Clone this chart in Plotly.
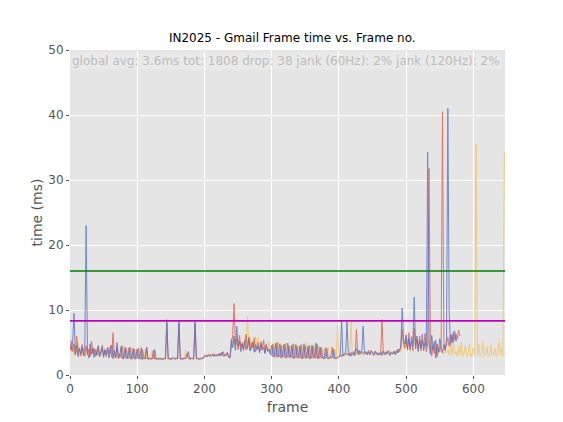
import plotly.graph_objects as go

# frame times (ms), one value every 2 frames
frame_step = 2

blue_ms = [
    4.5, 3.8, 5.2, 9.5, 3.1, 4.6, 2.8, 4.0, 3.3, 4.4,
    3.0, 4.2, 23.0, 3.5, 2.6, 4.8, 3.2, 4.1, 2.7, 3.9,
    3.0, 4.5, 2.8, 3.6, 4.2, 2.7, 3.9, 3.1, 4.3, 2.6,
    3.4, 4.6, 2.5, 3.8, 2.7, 5.0, 2.6, 3.1, 4.4, 2.5,
    2.6, 4.3, 2.5, 2.7, 4.2, 2.5, 2.6, 4.1, 2.4, 2.7,
    4.0, 2.5, 2.6, 4.2, 2.4, 2.6, 2.5, 4.3, 2.5, 2.6,
    2.4, 2.5, 2.6, 3.9, 2.5, 2.4, 2.6, 2.5, 2.5, 2.4,
    2.6, 2.5, 8.5, 2.6, 2.4, 2.5, 2.6, 2.7, 2.5, 2.6,
    2.5, 8.4, 2.6, 2.5, 2.4, 2.6, 2.5, 2.7, 3.6, 2.5,
    2.6, 2.5, 2.7, 8.2, 2.6, 2.5, 2.4, 2.6, 2.5, 2.6,
    2.9, 3.0, 2.8, 3.1, 2.9, 3.0, 3.2, 2.9, 3.0, 3.1,
    2.9, 3.3, 3.0, 3.5, 2.9, 3.1, 3.0, 3.4, 2.8, 2.7,
    5.5, 4.2, 6.0, 3.8, 7.5, 4.5, 5.2, 3.6, 4.8, 4.0,
    5.3, 3.9, 4.6, 5.8, 3.7, 4.4, 5.0, 3.5, 4.7, 3.9,
    4.5, 3.4, 5.1, 3.8, 4.2, 3.3, 4.8, 3.6, 3.9, 3.2,
    4.6, 2.8, 3.0, 4.9, 2.7, 3.2, 4.8, 2.6, 3.1, 4.7,
    2.6, 2.9, 4.9, 2.7, 2.8, 4.6, 2.5, 3.0, 4.7, 2.6,
    2.8, 4.5, 2.5, 2.9, 4.8, 2.6, 2.7, 4.4, 2.5, 2.8,
    4.6, 2.6, 2.7, 4.9, 2.5, 2.8, 4.3, 2.6, 2.7, 2.5,
    4.2, 2.6, 2.5, 2.8, 2.6, 2.7, 4.0, 2.6, 2.5, 2.7,
    2.8, 3.0, 8.3, 2.9, 3.2, 3.5, 8.2, 3.1, 3.3, 2.9,
    3.4, 3.0, 3.6, 4.1, 3.2, 3.8, 3.3, 3.5, 7.5, 3.4,
    3.6, 3.1, 3.5, 3.2, 3.8, 3.3, 3.0, 3.6, 3.2, 3.4,
    3.1, 3.5, 3.0, 3.7, 3.3, 3.2, 3.6, 3.4, 3.0, 3.5,
    3.2, 3.6, 3.1, 3.8, 3.4, 3.9, 4.2, 10.3, 5.5, 4.8,
    6.2, 4.1, 5.6, 3.8, 5.9, 4.5, 12.0, 4.0, 6.0, 3.6,
    5.4, 4.2, 6.3, 3.7, 5.0, 4.4, 34.3, 4.9, 3.2, 6.1,
    3.9, 5.2, 2.6, 4.8, 3.5, 5.6, 4.1, 3.4, 4.7, 3.8,
    5.5, 41.0, 9.5, 4.6, 6.2, 5.0, 6.8, 5.2, 5.8,
]

red_ms = [
    4.0, 5.3, 3.6, 4.8, 3.2, 6.0, 3.5, 4.2, 2.9, 4.7,
    3.4, 2.9, 4.5, 3.1, 4.0, 2.8, 5.2, 3.3, 4.1, 2.9,
    3.7, 4.4, 2.9, 3.5, 4.6, 3.0, 3.8, 2.8, 4.1, 3.2,
    4.5, 2.8, 6.5, 3.0, 2.6, 4.4, 2.5, 3.2, 2.7, 4.5,
    2.5, 2.7, 4.1, 2.5, 2.6, 4.3, 2.4, 2.6, 4.0, 2.5,
    2.6, 4.1, 2.5, 2.4, 3.9, 2.6, 2.5, 4.2, 2.4, 2.5,
    2.6, 2.5, 3.8, 2.4, 2.6, 2.5, 2.4, 2.6, 2.5, 2.4,
    2.5, 2.6, 8.0, 2.5, 2.6, 2.4, 2.5, 2.6, 2.4, 2.5,
    2.6, 7.9, 2.5, 2.4, 2.6, 2.5, 2.7, 3.3, 2.6, 2.4,
    2.5, 2.6, 2.4, 8.0, 2.5, 2.6, 2.5, 2.4, 2.6, 2.5,
    3.0, 2.8, 3.1, 2.9, 3.2, 2.8, 3.0, 3.3, 2.9, 3.0,
    3.2, 2.9, 3.4, 3.0, 3.6, 2.9, 3.1, 3.5, 2.7, 2.6,
    4.8, 6.2, 11.0, 4.5, 5.6, 3.9, 6.1, 4.3, 5.0, 3.7,
    4.9, 6.3, 4.0, 5.4, 3.8, 5.1, 4.2, 5.7, 3.6, 4.5,
    5.0, 3.6, 4.6, 3.9, 5.3, 3.4, 4.4, 3.7, 4.0, 3.3,
    3.0, 4.8, 2.7, 3.1, 5.0, 2.8, 2.9, 4.6, 2.7, 3.0,
    4.8, 2.6, 2.8, 4.5, 2.7, 2.9, 4.8, 2.6, 2.7, 4.4,
    2.6, 2.8, 4.7, 2.5, 2.9, 4.5, 2.6, 2.7, 4.6, 2.5,
    2.8, 4.4, 2.6, 2.7, 4.7, 2.5, 2.8, 4.2, 2.6, 2.5,
    2.7, 4.1, 2.5, 2.6, 2.8, 4.3, 2.6, 2.5, 2.7, 2.6,
    2.9, 3.1, 2.8, 3.2, 3.0, 3.4, 3.1, 3.3, 2.9, 3.5,
    3.2, 3.6, 3.0, 7.0, 3.4, 3.1, 3.7, 3.3, 3.5, 3.2,
    3.5, 3.2, 3.8, 3.1, 3.6, 3.4, 3.2, 3.7, 3.3, 3.0,
    3.4, 3.2, 8.5, 3.5, 3.1, 3.6, 3.3, 3.8, 3.2, 3.4,
    3.3, 3.7, 3.2, 3.5, 4.0, 3.6, 4.4, 7.0, 5.0, 4.2,
    5.8, 3.9, 6.5, 4.3, 5.2, 3.8, 7.2, 4.6, 5.5, 4.0,
    6.0, 3.7, 5.3, 4.5, 6.4, 3.6, 4.8, 31.8, 5.2, 2.9,
    4.5, 3.3, 5.4, 2.8, 4.2, 3.6, 4.9, 40.5, 5.0, 3.9,
    4.6, 5.8, 4.4, 6.2, 5.0, 6.6, 5.4, 6.3, 5.6, 6.9, 6.0,
]

yellow_ms = [
    4.2, 3.5, 4.9, 3.0, 4.4, 3.3, 5.0, 2.9, 3.8, 3.2,
    4.1, 2.8, 3.6, 4.3, 2.9, 3.9, 3.1, 4.4, 2.8, 3.5,
    4.0, 3.0, 3.7, 4.2, 2.9, 3.4, 4.1, 3.1, 3.6, 2.9,
    3.8, 2.7, 4.6, 2.6, 3.0, 4.2, 2.5, 2.8, 4.3, 2.6,
    2.7, 4.0, 2.5, 2.6, 4.2, 2.5, 2.7, 3.9, 2.5, 2.6,
    4.1, 2.5, 2.6, 3.8, 2.5, 2.7, 4.0, 2.4, 2.6, 2.5,
    2.5, 3.7, 2.6, 2.5, 2.4, 2.6, 2.5, 2.4, 2.6, 2.5,
    2.5, 2.6, 2.5, 2.4, 2.6, 2.5, 2.4, 2.6, 2.5, 2.6,
    2.5, 2.6, 2.4, 2.5, 2.6, 2.7, 3.8, 2.6, 2.5, 2.4,
    2.6, 2.5, 2.6, 2.4, 2.5, 2.6, 2.5, 2.4, 2.6, 2.7,
    3.1, 2.9, 3.0, 3.2, 2.9, 3.1, 3.0, 2.8, 3.2, 2.9,
    3.0, 3.3, 2.9, 3.1, 3.4, 3.0, 3.2, 2.9, 2.8, 2.7,
    5.0, 4.3, 5.5, 3.9, 6.2, 4.1, 5.4, 3.8, 4.6, 4.2,
    5.6, 3.9, 9.0, 4.4, 5.9, 3.8, 5.2, 4.0, 6.0, 4.3,
    5.8, 3.7, 4.9, 4.2, 5.5, 3.6, 4.6, 3.9, 5.1, 3.4,
    3.2, 2.9, 4.7, 2.8, 3.0, 5.1, 2.7, 2.9, 4.6, 2.8,
    3.0, 4.9, 2.7, 2.8, 4.4, 2.6, 3.0, 4.7, 2.7, 2.8,
    4.6, 2.6, 2.7, 4.4, 2.5, 2.8, 4.9, 2.6, 2.7, 4.5,
    2.5, 2.7, 4.8, 2.6, 2.6, 4.5, 2.5, 2.7, 4.1, 2.6,
    2.5, 2.7, 4.3, 2.6, 2.5, 2.8, 2.6, 4.0, 2.7, 7.7,
    3.0, 2.8, 3.2, 2.9, 3.3, 3.1, 3.0, 3.2, 3.0, 8.2,
    3.1, 3.4, 3.0, 3.5, 3.2, 3.6, 3.1, 3.3, 3.0, 3.4,
    3.2, 3.5, 3.1, 3.6, 3.3, 3.0, 3.4, 3.2, 3.5, 3.1,
    3.3, 3.0, 3.6, 3.2, 3.4, 3.1, 3.5, 3.3, 3.0, 3.6,
    3.2, 3.4, 3.7, 3.3, 3.8, 4.1, 3.6, 5.8, 4.4, 3.9,
    5.1, 3.7, 5.7, 4.0, 4.8, 3.6, 6.0, 4.2, 5.0, 3.8,
    5.5, 3.9, 4.6, 4.1, 5.7, 3.5, 4.4, 5.3, 3.8, 4.5,
    3.6, 4.9, 3.3, 4.2, 3.1, 4.6, 3.5, 3.9, 3.2, 4.1,
    3.4, 3.9, 3.1, 4.6, 3.0, 5.2, 3.2, 3.6, 2.9, 4.4,
    3.0, 5.0, 2.8, 3.4, 4.5, 2.9, 3.2, 4.8, 2.8, 3.1,
    4.2, 2.9, 35.5, 3.0, 4.7, 2.8, 3.3, 5.1, 2.9, 3.2,
    4.4, 2.8, 3.0, 4.6, 2.9, 3.1, 4.1, 2.8, 3.5, 5.0,
    3.0, 4.4, 2.9, 34.3,
]

jank_60hz_ms = 16.0
jank_120hz_ms = 8.33
x_max = 647
stats_text = "global avg: 3.6ms tot: 1808 drop: 38 jank (60Hz): 2% jank (120Hz): 2%"

fig = go.Figure()

# yellow first so the other two runs sit on top
for values, color in [(yellow_ms, "#F5C463"), (red_ms, "#E8584A"), (blue_ms, "#5470C6")]:
    frames = list(range(0, len(values) * frame_step, frame_step))
    fig.add_trace(go.Scatter(
        x=frames, y=values, mode="lines",
        line=dict(color=color, width=1.0), opacity=0.8,
        showlegend=False, hoverinfo="skip",
    ))

for level, color in [(jank_60hz_ms, "#008000"), (jank_120hz_ms, "#BF00BF")]:
    fig.add_trace(go.Scatter(
        x=[0, x_max], y=[level, level], mode="lines",
        line=dict(color=color, width=1.6),
        showlegend=False, hoverinfo="skip",
    ))

fig.add_annotation(
    text=stats_text, xref="paper", yref="paper", x=0.0, y=0.995,
    xanchor="left", yanchor="top", showarrow=False,
    font=dict(size=12, color="#BDBDBD"), bgcolor="rgba(255,255,255,0.15)",
)

axis_style = dict(
    showgrid=True, gridcolor="white", gridwidth=1, zeroline=False,
    ticks="outside", ticklen=3, tickcolor="#555555",
    tickfont=dict(size=12, color="#555555"), showline=False,
)

fig.update_layout(
    width=563, height=422,
    margin=dict(l=62, r=66, t=42, b=55),
    paper_bgcolor="white", plot_bgcolor="#E5E5E5",
    font=dict(family="DejaVu Sans"),
    title=dict(text="IN2025 - Gmail Frame time vs. Frame no.",
               x=0.505, xanchor="center", y=0.93, yanchor="middle",
               font=dict(size=12, color="black")),
    xaxis=dict(range=[0, x_max], tickvals=[0, 100, 200, 300, 400, 500, 600],
               title=dict(text="frame", font=dict(size=14, color="#555555"), standoff=6),
               **axis_style),
    yaxis=dict(range=[0, 50], tickvals=[0, 10, 20, 30, 40, 50],
               title=dict(text="time (ms)", font=dict(size=14, color="#555555"), standoff=2),
               **axis_style),
)

fig.write_html("out.html")
